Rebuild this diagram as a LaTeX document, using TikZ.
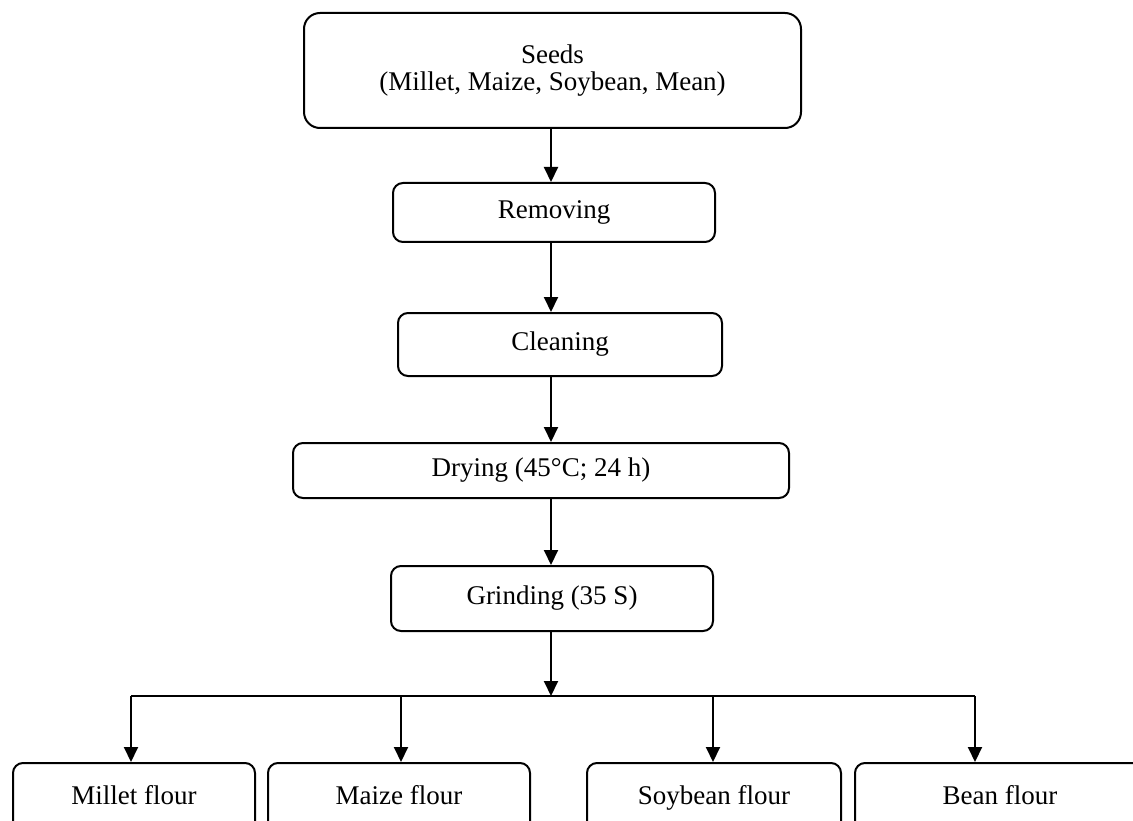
\documentclass[tikz,border=0pt]{standalone}
\usepackage{fontspec}
\setmainfont{Liberation Serif}
\usetikzlibrary{arrows.meta}

\begin{document}
\begin{tikzpicture}[
    x=1pt, y=-1pt,
    >={Triangle[width=14pt,length=15pt]},
    plainbox/.style={draw, line width=2pt, rounded corners=10pt, inner sep=0pt, align=center, font=\fontsize{27}{27.5}\selectfont},
    box/.style={plainbox, text height=18pt, text depth=6pt},
    flour/.style={box, minimum height=70pt},
    arrow/.style={->, line width=2pt},
    bus/.style={line width=2pt},
]
\clip (0,0) rectangle (1133,821);

% process steps
\node[plainbox, rounded corners=16pt, minimum width=497pt, minimum height=115pt] (seeds) at (552.5,70.5) {Seeds\\(Millet, Maize, Soybean, Mean)};
\node[box, minimum width=322pt, minimum height=59pt] (removing) at (554,212.5) {Removing};
\node[box, minimum width=324pt, minimum height=63pt] (cleaning) at (560,344.5) {Cleaning};
\node[box, minimum width=496pt, minimum height=55pt] (drying) at (541,470.5) {Drying (45°C; 24 h)};
\node[box, minimum width=322pt, minimum height=65pt] (grinding) at (552,598.5) {Grinding (35 S)};

% products
\node[flour, minimum width=242pt] (millet) at (134,798) {Millet flour};
\node[flour, minimum width=262pt] (maize) at (399,798) {Maize flour};
\node[flour, minimum width=254pt] (soybean) at (714,798) {Soybean flour};
\node[flour, minimum width=290pt] (bean) at (1000,798) {Bean flour};

\coordinate (spine) at (551,0);
\coordinate (split) at (551,696);
\coordinate (b1) at (131,696);
\coordinate (b2) at (401,696);
\coordinate (b3) at (713,696);
\coordinate (b4) at (975,696);

\draw[arrow] (seeds.south -| spine) -- (removing.north -| spine);
\draw[arrow] (removing.south -| spine) -- (cleaning.north -| spine);
\draw[arrow] (cleaning.south -| spine) -- (drying.north -| spine);
\draw[arrow] (drying.south -| spine) -- (grinding.north -| spine);
\draw[arrow] (grinding.south -| spine) -- (split);

\draw[bus] (b1) -- (b4);
\draw[arrow] (b1) -- (b1 |- millet.north);
\draw[arrow] (b2) -- (b2 |- maize.north);
\draw[arrow] (b3) -- (b3 |- soybean.north);
\draw[arrow] (b4) -- (b4 |- bean.north);
\end{tikzpicture}
\end{document}
